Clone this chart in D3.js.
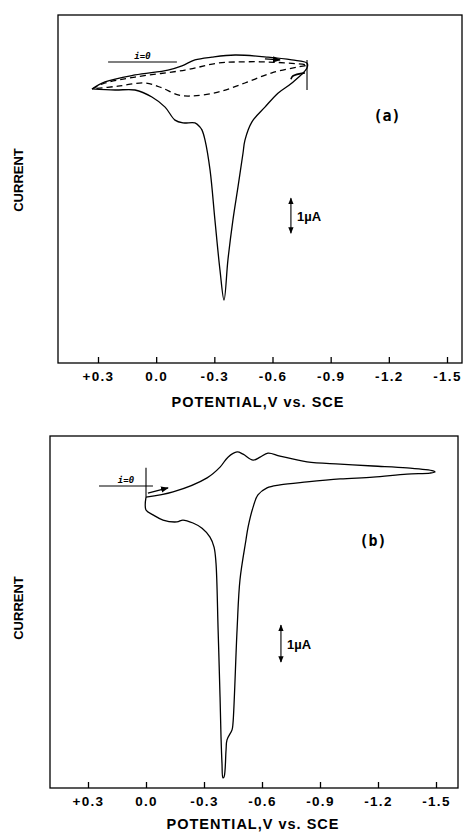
<html>
    <head>
        <script src='https://cdn.jsdelivr.net/npm/d3@7'></script>
        <style> body {margin: 0; background: white} </style>
    </head>
    <body>
        <svg width=464 height=832></svg>
        <script>
            // potential in V vs. SCE, current in uA (0 = the i=0 line)
            var tickValues = [0.3, 0.0, -0.3, -0.6, -0.9, -1.2, -1.5];
            var tickLabels = ['+0.3', '0.0', '-0.3', '-0.6', '-0.9', '-1.2', '-1.5'];

            // panel (a), solid scan
            var aSolidE = [0.331, 0.264, 0.109, -0.061, -0.133, -0.200, -0.288, -0.407, -0.577, -0.700, -0.778,
                           -0.778, -0.700, -0.628, -0.561, -0.494, -0.458, -0.448, -0.422, -0.396, -0.370, -0.350,
                           -0.329, -0.303, -0.278, -0.252, -0.236, -0.226, -0.200, -0.138, -0.097, -0.046, 0.022, 0.109, 0.212, 0.331];
            var aSolidI = [-0.77, -0.57, -0.37, -0.23, -0.11, 0.06, 0.14, 0.20, 0.14, 0.06, -0.03,
                           -0.17, -0.60, -0.89, -1.29, -1.71, -2.23, -2.60, -3.57, -4.51, -5.66, -6.80,
                           -5.94, -4.51, -3.09, -2.23, -1.94, -1.86, -1.74, -1.74, -1.66, -1.29, -1.00, -0.80, -0.80, -0.77];

            // panel (a), dashed scan
            var aDashE = [0.331, 0.264, 0.109, -0.149, -0.319, -0.407, -0.577, -0.778,
                          -0.731, -0.597, -0.458, -0.319, -0.185, -0.113, -0.030, 0.058, 0.197, 0.331];
            var aDashI = [-0.77, -0.60, -0.43, -0.23, -0.03, 0.00, 0.00, -0.09,
                          -0.14, -0.31, -0.60, -0.86, -0.97, -0.94, -0.74, -0.60, -0.69, -0.77];

            // panel (a), short piece near the switching potential
            var aPieceE = [-0.695, -0.705, -0.767];
            var aPieceI = [-0.49, -0.40, -0.31];

            // panel (b)
            var bE = [0.000, -0.140, -0.316, -0.383, -0.424, -0.471, -0.502, -0.554, -0.590, -0.631, -0.693, -0.833, -1.004, -1.174, -1.350, -1.485, -1.495,
                      -1.469, -1.350, -1.174, -1.004, -0.833, -0.693, -0.626, -0.579, -0.554, -0.528, -0.517, -0.486, -0.471, -0.450, -0.445, -0.419, -0.414, -0.404, -0.398,
                      -0.393, -0.388, -0.383, -0.373, -0.362, -0.352, -0.331, -0.290, -0.243, -0.191, -0.160, -0.088, -0.036, 0.000, 0.000];
            var bI = [-0.30, -0.16, 0.22, 0.51, 0.78, 0.92, 0.86, 0.70, 0.78, 0.89, 0.81, 0.65, 0.59, 0.54, 0.49, 0.41, 0.38,
                      0.35, 0.32, 0.24, 0.19, 0.11, 0.03, -0.05, -0.24, -0.57, -1.11, -1.46, -2.54, -3.89, -6.41, -6.59, -6.86, -7.14, -7.86, -7.89,
                      -7.49, -6.78, -5.70, -3.89, -2.08, -1.65, -1.38, -1.14, -1.00, -0.92, -0.97, -0.92, -0.78, -0.65, -0.30];

            // annotations: i=0 line, start arrow, switching/start marker, 1 uA bar
            var aZeroE = [0.248, -0.107];
            var aArrowE = [-0.561, -0.639], aArrowI = [0.09, 0.06];
            var aMarkE = -0.778, aMarkI = [0.06, -0.80];
            var aBarE = -0.695, aBarI = [-3.89, -4.89];

            var bZeroE = [0.243, -0.036];
            var bArrowE = [-0.010, -0.114], bArrowI = [-0.19, -0.05];
            var bMarkE = 0.0, bMarkI = [0.49, -0.30];
            var bBarE = -0.698, bBarI = [-3.76, -4.76];

            var font = "'Liberation Sans', Arial, sans-serif";
            var svg = d3.select('svg');

            svg.append('defs').append('marker')
              .attr('id', 'head')
              .attr('viewBox', '0 0 10 10')
              .attr('refX', 9).attr('refY', 5)
              .attr('markerWidth', 6).attr('markerHeight', 6)
              .attr('orient', 'auto-start-reverse')
              .append('path')
              .attr('d', 'M0,1 L10,5 L0,9 z')
              .style('fill', 'black');

            function pairs(es, is) {
                return es.map(function (e, idx) { return [e, is[idx]]; });
            }

            function drawPanel(p) {
                var x = d3.scaleLinear().domain([0.3, -1.5]).range(p.xRange);
                var y = d3.scaleLinear().domain([0, -1]).range(p.yRange);

                /**
                 * Frame
                 */
                svg.append('rect')
                  .attr('x', p.frame[0]).attr('y', p.frame[1])
                  .attr('width', p.frame[2] - p.frame[0])
                  .attr('height', p.frame[3] - p.frame[1])
                  .style('fill', 'none')
                  .style('stroke', 'black')
                  .style('stroke-width', 1.3);

                /**
                 * X-Axis with inward ticks
                 */
                var axis = svg.append('g')
                  .attr('transform', 'translate(0,' + p.frame[3] + ')')
                  .call(d3.axisBottom(x)
                    .tickValues(tickValues)
                    .tickFormat(function (d, idx) { return tickLabels[idx]; })
                    .tickSize(-6)
                    .tickPadding(8));
                axis.select('.domain').remove();
                axis.selectAll('line').style('stroke-width', 1.3);
                axis.selectAll('text')
                  .style('font-family', font)
                  .style('font-weight', 'bold')
                  .style('font-size', '13.5px')
                  .style('letter-spacing', '1.3px');

                svg.append('text')
                  .attr('x', p.titleX).attr('y', p.titleY)
                  .attr('text-anchor', 'middle')
                  .style('font-family', font)
                  .style('font-weight', 'bold')
                  .style('font-size', '14.5px')
                  .style('letter-spacing', '1px')
                  .text('POTENTIAL,V vs. SCE');

                svg.append('text')
                  .attr('transform', 'translate(23,' + p.currentY + ')rotate(-90)')
                  .attr('text-anchor', 'middle')
                  .style('font-family', font)
                  .style('font-weight', 'bold')
                  .style('font-size', '13px')
                  .text('CURRENT');

                svg.append('text')
                  .attr('x', p.tagX).attr('y', p.tagY)
                  .attr('text-anchor', 'middle')
                  .style('font-family', "'DejaVu Sans Mono', monospace")
                  .style('font-weight', 'bold')
                  .style('font-size', '15px')
                  .text(p.tag);

                /**
                 * Curves
                 */
                var line = d3.line()
                  .x(function (d) { return x(d[0]); })
                  .y(function (d) { return y(d[1]); })
                  .curve(d3.curveCatmullRom.alpha(0.5));

                p.curves.forEach(function (c) {
                    svg.append('path')
                      .datum(pairs(c.e, c.i))
                      .attr('d', line)
                      .style('fill', 'none')
                      .style('stroke', 'black')
                      .style('stroke-width', c.width || 1.3)
                      .style('stroke-dasharray', c.dash || null);
                });

                // i = 0 reference
                svg.append('line')
                  .attr('x1', x(p.zeroE[0])).attr('x2', x(p.zeroE[1]))
                  .attr('y1', y(0)).attr('y2', y(0))
                  .style('stroke', 'black').style('stroke-width', 1.1);
                svg.append('text')
                  .attr('x', (x(p.zeroE[0]) + x(p.zeroE[1])) / 2)
                  .attr('y', y(0) - 3)
                  .attr('text-anchor', 'middle')
                  .style('font-family', "'DejaVu Sans Mono', monospace")
                  .style('font-weight', 'bold')
                  .style('font-style', 'italic')
                  .style('font-size', '9px')
                  .text('i=0');

                // marker line at the start / switching potential
                svg.append('line')
                  .attr('x1', x(p.markE)).attr('x2', x(p.markE))
                  .attr('y1', y(p.markI[0])).attr('y2', y(p.markI[1]))
                  .style('stroke', 'black').style('stroke-width', 1.1);

                // scan direction arrow
                svg.append('line')
                  .attr('x1', x(p.arrowE[0])).attr('x2', x(p.arrowE[1]))
                  .attr('y1', y(p.arrowI[0])).attr('y2', y(p.arrowI[1]))
                  .attr('marker-end', 'url(#head)')
                  .style('stroke', 'black').style('stroke-width', 1.3);

                // 1 uA scale bar
                svg.append('line')
                  .attr('x1', x(p.barE)).attr('x2', x(p.barE))
                  .attr('y1', y(p.barI[0])).attr('y2', y(p.barI[1]))
                  .attr('marker-start', 'url(#head)')
                  .attr('marker-end', 'url(#head)')
                  .style('stroke', 'black').style('stroke-width', 1.1);
                svg.append('text')
                  .attr('x', x(p.barE) + 6)
                  .attr('y', (y(p.barI[0]) + y(p.barI[1])) / 2 + 5)
                  .style('font-family', font)
                  .style('font-weight', 'bold')
                  .style('font-size', '13px')
                  .text('1\u00b5A');
            }

            drawPanel({
                xRange: [98, 447], yRange: [62, 97], frame: [58, 15, 462, 363],
                titleX: 258, titleY: 407, currentY: 180, tag: '(a)', tagX: 387, tagY: 121,
                curves: [
                    {e: aSolidE, i: aSolidI},
                    {e: aDashE, i: aDashI, dash: '6,4'},
                    {e: aPieceE, i: aPieceI, width: 1.6}
                ],
                zeroE: aZeroE, markE: aMarkE, markI: aMarkI,
                arrowE: aArrowE, arrowI: aArrowI, barE: aBarE, barI: aBarI
            });

            drawPanel({
                xRange: [88, 436], yRange: [486, 523], frame: [50, 436, 458, 788],
                titleX: 253, titleY: 829, currentY: 608, tag: '(b)', tagX: 373, tagY: 546,
                curves: [
                    {e: bE, i: bI}
                ],
                zeroE: bZeroE, markE: bMarkE, markI: bMarkI,
                arrowE: bArrowE, arrowI: bArrowI, barE: bBarE, barI: bBarI
            });
        </script>
    </body>
</html>
